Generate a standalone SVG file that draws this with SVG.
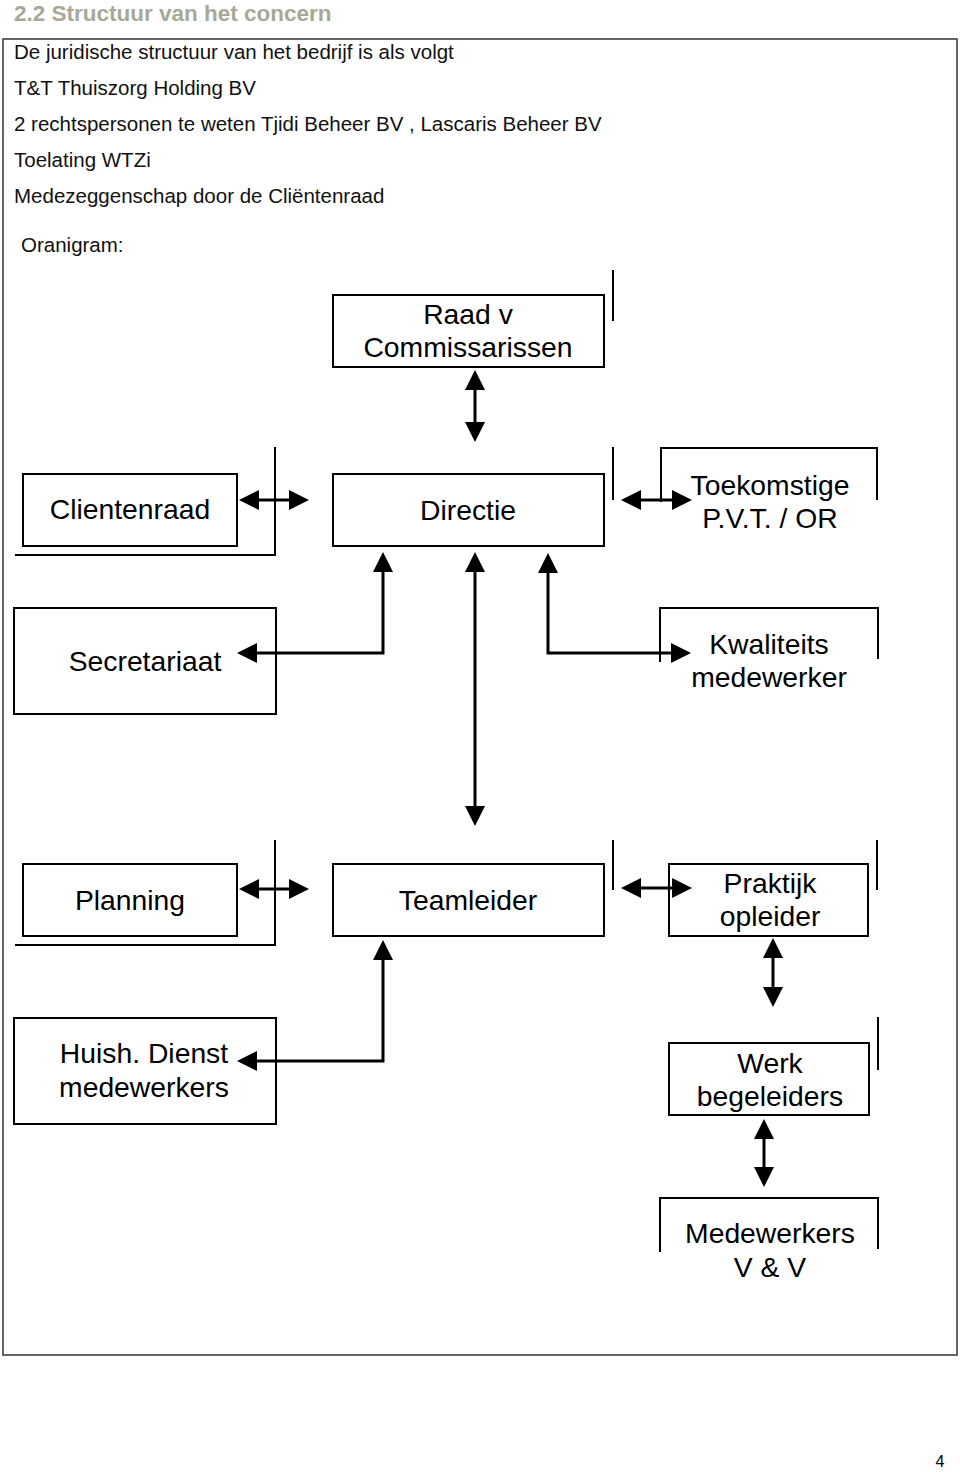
<svg xmlns="http://www.w3.org/2000/svg" width="960" height="1472" viewBox="0 0 960 1472">
<style>
.hdr{font-family:"Liberation Sans",Arial,sans-serif;font-size:20.5px;fill:#111}
.ttl{font-family:"Liberation Sans",Arial,sans-serif;font-size:22.5px;font-weight:bold;fill:#a8a896}
.lbl{font-family:"Liberation Sans",Arial,sans-serif;font-size:28.3px;fill:#000;text-anchor:middle}
.box{fill:#fff;stroke:#000;stroke-width:2}
.deco{fill:none;stroke:#000;stroke-width:2}
.con{fill:none;stroke:#000;stroke-width:3;marker-start:url(#ah);marker-end:url(#ah)}
</style>
<defs>
<marker id="ah" viewBox="0 0 20 20" refX="15" refY="10" markerWidth="20" markerHeight="20" markerUnits="userSpaceOnUse" orient="auto-start-reverse">
<path d="M0,0 L20,10 L0,20 z" fill="#000"/>
</marker>
</defs>
<rect width="960" height="1472" fill="#fff"/>
<text class="ttl" x="14" y="21">2.2 Structuur van het concern</text>
<rect x="3" y="39" width="954" height="1316" fill="none" stroke="#333" stroke-width="1.5"/>
<g id="intro">
<text class="hdr" x="14" y="59">De juridische structuur van het bedrijf is als volgt</text>
<text class="hdr" x="14" y="95">T&amp;T Thuiszorg Holding BV</text>
<text class="hdr" x="14" y="131">2 rechtspersonen te weten Tjidi Beheer BV , Lascaris Beheer BV</text>
<text class="hdr" x="14" y="167">Toelating WTZi</text>
<text class="hdr" x="14" y="203">Medezeggenschap door de Cliëntenraad</text>
<text class="hdr" x="21" y="252">Oranigram:</text>
</g>
<g id="raad">
<rect class="box" x="333" y="295" width="271" height="72"/>
<line class="deco" x1="613" y1="270" x2="613" y2="321"/>
<text class="lbl" x="468" y="324">Raad v</text>
<text class="lbl" x="468" y="357">Commissarissen</text>
</g>
<g id="directie">
<rect class="box" x="333" y="474" width="271" height="72"/>
<line class="deco" x1="613" y1="447" x2="613" y2="500"/>
<text class="lbl" x="468" y="520">Directie</text>
</g>
<g id="clientenraad">
<rect class="box" x="23" y="474" width="214" height="72"/>
<path class="deco" d="M275,447 V555 H15"/>
<text class="lbl" x="130" y="519">Clientenraad</text>
</g>
<g id="toekomstige">
<path class="deco" d="M661,502 V448 H877 V500"/>
<text class="lbl" x="770" y="495">Toekomstige</text>
<text class="lbl" x="770" y="528">P.V.T. / OR</text>
</g>
<g id="secretariaat">
<rect class="box" x="14" y="608" width="262" height="106"/>
<text class="lbl" x="145" y="671">Secretariaat</text>
</g>
<g id="kwaliteits">
<path class="deco" d="M660,662 V608 H878 V659"/>
<text class="lbl" x="769" y="654">Kwaliteits</text>
<text class="lbl" x="769" y="687">medewerker</text>
</g>
<g id="planning">
<rect class="box" x="23" y="864" width="214" height="72"/>
<path class="deco" d="M275,840 V945 H15"/>
<text class="lbl" x="130" y="910">Planning</text>
</g>
<g id="teamleider">
<rect class="box" x="333" y="864" width="271" height="72"/>
<line class="deco" x1="613" y1="840" x2="613" y2="890"/>
<text class="lbl" x="468" y="910">Teamleider</text>
</g>
<g id="praktijk">
<rect class="box" x="669" y="864" width="199" height="72"/>
<line class="deco" x1="877" y1="840" x2="877" y2="890"/>
<text class="lbl" x="770" y="893">Praktijk</text>
<text class="lbl" x="770" y="926">opleider</text>
</g>
<g id="huish">
<rect class="box" x="14" y="1018" width="262" height="106"/>
<text class="lbl" x="144" y="1063">Huish. Dienst</text>
<text class="lbl" x="144" y="1097">medewerkers</text>
</g>
<g id="werk">
<rect class="box" x="669" y="1043" width="200" height="72"/>
<line class="deco" x1="878" y1="1017" x2="878" y2="1070"/>
<text class="lbl" x="770" y="1073">Werk</text>
<text class="lbl" x="770" y="1106">begeleiders</text>
</g>
<g id="medewerkers">
<path class="deco" d="M660,1252 V1198 H878 V1249"/>
<text class="lbl" x="770" y="1243">Medewerkers</text>
<text class="lbl" x="770" y="1277">V &amp; V</text>
</g>
<g id="connectors">
<path class="con" d="M475,375 V437"/>
<path class="con" d="M244,500 H304"/>
<path class="con" d="M626,500 H687"/>
<path class="con" d="M383,557 V653 H242"/>
<path class="con" d="M475,557 V821"/>
<path class="con" d="M548,558 V653 H686"/>
<path class="con" d="M244,889 H304"/>
<path class="con" d="M626,888 H687"/>
<path class="con" d="M383,945 V1061 H242"/>
<path class="con" d="M773,943 V1002"/>
<path class="con" d="M764,1124 V1182"/>
</g>
<text x="940" y="1467" font-family="Liberation Sans, Arial, sans-serif" font-size="16" fill="#000" text-anchor="middle">4</text>
</svg>
